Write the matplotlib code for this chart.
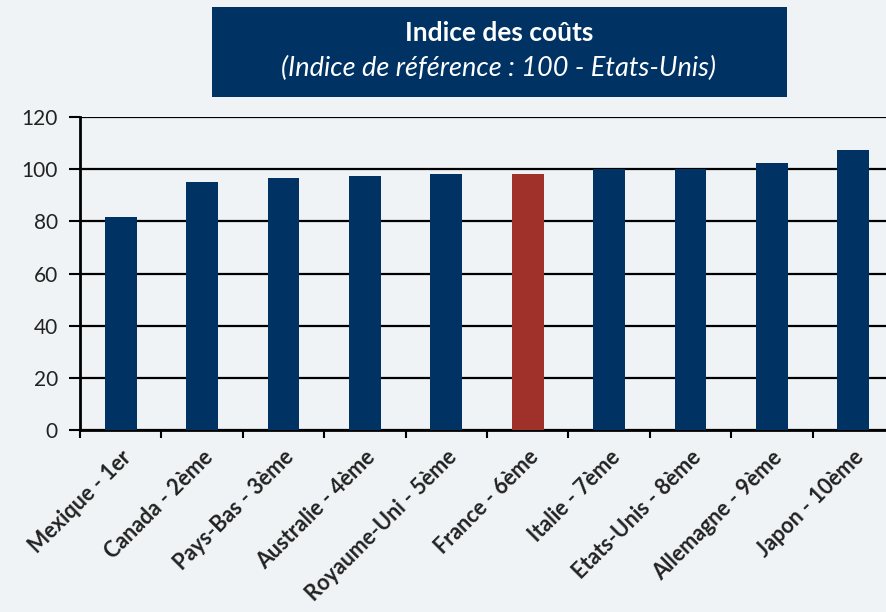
import matplotlib.pyplot as plt
from matplotlib.patches import Rectangle
import numpy as np

pays = ["Mexique - 1er", "Canada - 2ème", "Pays-Bas - 3ème", "Australie - 4ème",
        "Royaume-Uni - 5ème", "France - 6ème", "Italie - 7ème", "Etats-Unis - 8ème",
        "Allemagne - 9ème", "Japon - 10ème"]
indice = [81.8, 95.1, 96.5, 97.4, 98.1, 98.1, 100.0, 100.0, 102.4, 107.3]
yticks = [0, 20, 40, 60, 80, 100, 120]

bg = "#eff3f5"
navy = "#003263"
rouge = "#a0302a"

plt.rcParams["font.family"] = ["Lato", "DejaVu Sans"]

fig = plt.figure(figsize=(8.87, 6.12), dpi=100, facecolor=bg)
ax = fig.add_axes([80 / 887, 182 / 612, 814 / 887, 313 / 612], facecolor=bg)

x = np.arange(len(pays))
couleurs = [rouge if p.startswith("France") else navy for p in pays]
ax.bar(x, indice, width=0.39, color=couleurs, zorder=3)

ax.set_xlim(-0.5, len(pays) - 0.5)
ax.set_ylim(0, 120)
ax.set_yticks(yticks)
ax.yaxis.grid(True, color="black", linewidth=1.6, zorder=1)
ax.tick_params(axis="y", labelsize=15, length=8, width=1.5, color="black",
               labelcolor="#222222", pad=8)

ax.set_xticks(x)
ax.set_xticklabels(pays, rotation=45, ha="right", rotation_mode="anchor",
                   fontsize=15.5, fontweight="bold", color="#222222")
ax.tick_params(axis="x", length=0, pad=12)
ax.set_xticks(np.arange(len(pays) + 1) - 0.5, minor=True)
ax.tick_params(axis="x", which="minor", length=6, width=1.5, color="black")

for s in ["top", "right"]:
    ax.spines[s].set_visible(False)
ax.spines["left"].set_linewidth(2)
ax.spines["bottom"].set_linewidth(2)

fig.patches.append(Rectangle((212 / 887, 1 - 97 / 612), 575 / 887, 90 / 612,
                             transform=fig.transFigure, facecolor=navy,
                             edgecolor="none"))
fig.text(499 / 887, 1 - 33 / 612, "Indice des coûts", color="white",
         fontsize=19, fontweight="bold", ha="center", va="center")
fig.text(499 / 887, 1 - 68 / 612, "(Indice de référence : 100 - Etats-Unis)",
         color="white", fontsize=19.5, style="italic", ha="center", va="center")

fig.savefig("out.png", dpi=100, facecolor=bg)
